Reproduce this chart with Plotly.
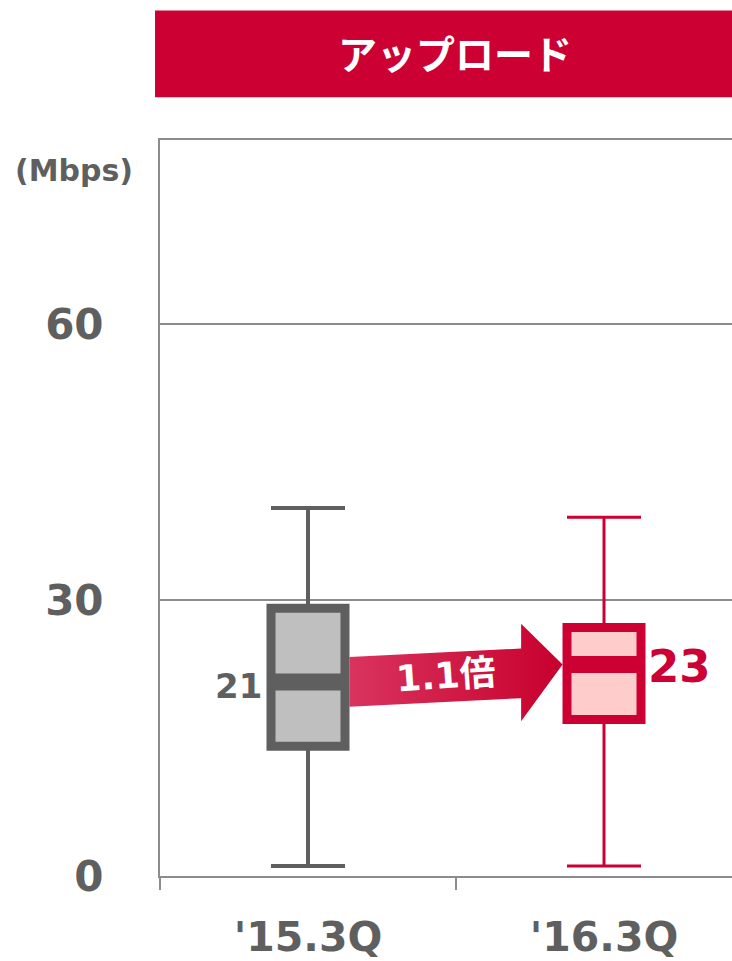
import plotly.graph_objects as go

# ---- data ----
categories = ["'15.3Q", "'16.3Q"]
lower_whisker = [1.1, 1.1]
q1_vals = [14.1, 17.0]
median_vals = [21.1, 23.0]
q3_vals = [29.1, 27.0]
upper_whisker = [40.0, 39.0]
median_labels = ["21", "23"]
ratio_label = "1.1倍"
title_text = "アップロード"
unit_text = "(Mbps)"
y_ticks = [0, 30, 60]

line_colors = ["#5f5f5f", "#cc0033"]
fill_colors = ["#bfbfbf", "#ffcccc"]
whisker_widths = [4, 3]
GRID = "#8c8c8c"
FONT = "DejaVu Sans"
BOX_W = 0.25

fig = go.Figure()
xpos = list(range(len(categories)))

for i in xpos:
    fig.add_trace(go.Box(
        x=[i], q1=[q1_vals[i]], median=[median_vals[i]], q3=[q3_vals[i]],
        lowerfence=[lower_whisker[i]], upperfence=[upper_whisker[i]],
        width=BOX_W, whiskerwidth=1.0,
        line=dict(color=line_colors[i], width=whisker_widths[i]),
        fillcolor=fill_colors[i], boxpoints=False, hoverinfo="skip",
        showlegend=False,
    ))
    # thick box outline and median
    fig.add_shape(type="rect", xref="x", yref="y",
                  x0=i - BOX_W / 2, x1=i + BOX_W / 2, y0=q1_vals[i], y1=q3_vals[i],
                  line=dict(color=line_colors[i], width=9), fillcolor=fill_colors[i],
                  layer="above")
    fig.add_shape(type="line", xref="x", yref="y",
                  x0=i - BOX_W / 2, x1=i + BOX_W / 2, y0=median_vals[i], y1=median_vals[i],
                  line=dict(color=line_colors[i], width=17), layer="above")

# ---- arrow between medians ----
gap = BOX_W / 2 + 0.015
xs, xe = 0 + gap, 1 - gap
head_len = 0.14
xh = xe - head_len
m1, m2 = median_vals
yh = m1 + (m2 - m1) * (xh - xs) / (xe - xs) - 0.6
body = 2.7
head = 4.9
ax = [xs, xh, xh, xe, xh, xh, xs, xs]
ay = [m1 + body, yh + body, yh + head + 0.5, m2, yh - head - 0.3, yh - body, m1 - body, m1 + body]
fig.add_trace(go.Scatter(
    x=ax, y=ay, mode="lines", fill="toself", line=dict(width=0),
    fillgradient=dict(type="horizontal", colorscale=[[0, "#d8345e"], [1, "#c8002d"]]),
    hoverinfo="skip", showlegend=False,
))
fig.add_annotation(x=0.465, y=(m1 + m2) / 2 - 0.3, xref="x", yref="y", text=ratio_label,
                   showarrow=False, textangle=-4, xanchor="center", yanchor="middle",
                   font=dict(family=FONT + ", Noto Sans CJK JP", size=36, color="white", weight="bold"))

# median value labels
fig.add_annotation(x=-0.148, y=m1 - 0.4, xref="x", yref="y", text=median_labels[0],
                   showarrow=False, xanchor="right", yanchor="middle",
                   font=dict(family=FONT, size=34, color="#5f5f5f", weight="bold"))
fig.add_annotation(x=1.142, y=m2 - 0.2, xref="x", yref="y", text=median_labels[1],
                   showarrow=False, xanchor="left", yanchor="middle",
                   font=dict(family=FONT, size=45, color="#cc0033", weight="bold"))

# unit label
fig.add_annotation(x=-0.15, y=0.959, xref="paper", yref="paper", text=unit_text,
                   showarrow=False, xanchor="center", yanchor="middle",
                   font=dict(family=FONT, size=30, color="#5f5f5f", weight="bold"))

# title banner
fig.add_shape(type="rect", xref="paper", yref="paper", x0=-0.0087, x1=1.02,
              y0=1.058, y1=1.176, fillcolor="#cc0033", line=dict(width=0))
fig.add_annotation(x=0.516, y=1.119, xref="paper", yref="paper", text=title_text,
                   showarrow=False, xanchor="center", yanchor="middle",
                   font=dict(family="Noto Sans CJK JP", size=39, color="white", weight="bold"))

fig.update_layout(
    width=732, height=961,
    margin=dict(l=160, r=0, t=140, b=82),
    paper_bgcolor="white", plot_bgcolor="white",
    showlegend=False,
    xaxis=dict(
        range=[-0.5, 1.4324], tickmode="array", tickvals=xpos, ticktext=categories,
        ticks="", showgrid=False, zeroline=False,
        showline=True, mirror=True, linecolor=GRID, linewidth=2,
        ticklabelstandoff=24,
        tickfont=dict(family=FONT, size=41, color="#5f5f5f", weight="bold"),
        minor=dict(tickmode="array", tickvals=[-0.5, 0.5], ticks="outside",
                   ticklen=12, tickcolor=GRID, tickwidth=2, showgrid=False),
    ),
    yaxis=dict(
        range=[0, 80], tickmode="array", tickvals=y_ticks, ticks="",
        showgrid=True, gridcolor=GRID, gridwidth=1.5, zeroline=False,
        showline=True, linecolor=GRID, linewidth=2,
        ticklabelstandoff=46,
        tickfont=dict(family=FONT, size=42, color="#5f5f5f", weight="bold"),
    ),
)

fig.write_html("out.html")
